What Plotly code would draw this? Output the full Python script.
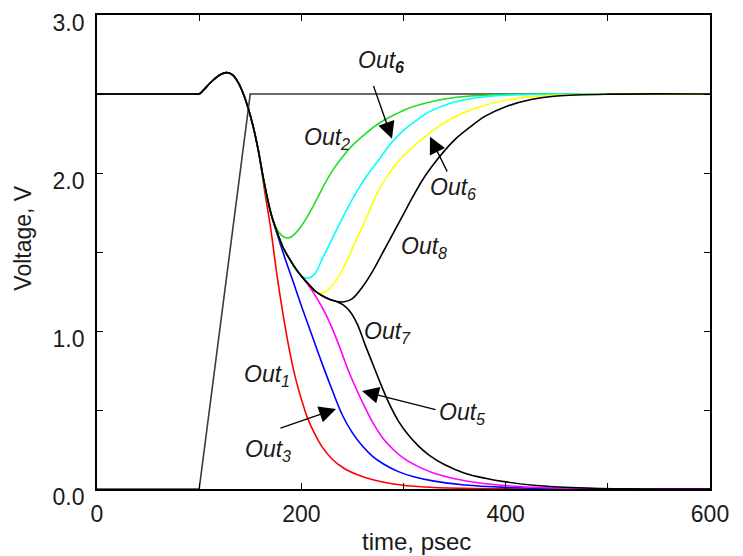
import plotly.graph_objects as go

# ---------------- data ----------------
input_t = [0, 100, 150, 600]
input_v = [0.0, 0.0, 2.5, 2.5]

# shared start of every output: flat, overshoot bump, fast fall
bump_t = [0, 97, 100, 105, 110, 115, 120, 127, 133, 138, 143, 148, 153, 158]
bump_v = [2.5, 2.5, 2.5, 2.53, 2.565, 2.595, 2.62, 2.635, 2.62, 2.575, 2.505, 2.41, 2.29, 2.14]

out1_t = [164, 170, 176, 182, 188, 194, 200, 206, 213, 220, 230, 242, 255, 270, 290, 320, 360, 420, 600]
out1_v = [1.89, 1.65, 1.36, 1.11, 0.89, 0.71, 0.57, 0.45, 0.35, 0.27, 0.19, 0.13, 0.09, 0.058, 0.032, 0.013, 0.004, 0.0, 0.0]

out2_t = [163, 168, 173, 178, 183, 188, 193, 199, 206, 214, 222, 230, 240, 250, 262, 275, 290, 305, 320, 340, 365, 400, 450, 600]
out2_v = [1.96, 1.80, 1.69, 1.625, 1.595, 1.59, 1.61, 1.655, 1.725, 1.82, 1.92, 2.01, 2.10, 2.175, 2.245, 2.31, 2.365, 2.41, 2.44, 2.468, 2.487, 2.497, 2.5, 2.5]

out3_t = [163, 170, 176, 183, 191, 200, 210, 220, 230, 240, 250, 260, 270, 280, 295, 310, 330, 360, 400, 450, 500, 600]
out3_v = [1.96, 1.75, 1.62, 1.48, 1.33, 1.16, 0.98, 0.80, 0.63, 0.47, 0.355, 0.27, 0.205, 0.16, 0.11, 0.078, 0.05, 0.025, 0.01, 0.002, 0.0, 0.0]

out4_t = [163, 170, 176, 182, 189, 195, 201, 207, 213, 220, 228, 236, 245, 255, 265, 276, 288, 300, 313, 326, 345, 370, 400, 450, 600]
out4_v = [1.96, 1.75, 1.63, 1.53, 1.45, 1.385, 1.345, 1.335, 1.36, 1.45, 1.555, 1.66, 1.775, 1.89, 1.99, 2.085, 2.19, 2.27, 2.335, 2.39, 2.44, 2.475, 2.492, 2.5, 2.5]

out5_t = [163, 170, 176, 182, 189, 195, 201, 208, 215, 222, 230, 238, 246, 254, 262, 270, 280, 290, 300, 315, 330, 350, 375, 400, 440, 500, 600]
out5_v = [1.96, 1.75, 1.63, 1.53, 1.45, 1.39, 1.34, 1.28, 1.21, 1.13, 1.02, 0.89, 0.75, 0.63, 0.52, 0.42, 0.32, 0.25, 0.195, 0.14, 0.10, 0.065, 0.038, 0.022, 0.008, 0.001, 0.0]

out6_t = [163, 170, 176, 182, 189, 195, 201, 208, 214, 219, 224, 230, 237, 245, 254, 264, 274, 285, 297, 310, 323, 338, 355, 375, 400, 430, 470, 520, 600]
out6_v = [1.96, 1.75, 1.63, 1.53, 1.45, 1.39, 1.34, 1.29, 1.25, 1.238, 1.25, 1.285, 1.35, 1.45, 1.58, 1.72, 1.87, 1.99, 2.09, 2.17, 2.24, 2.31, 2.37, 2.42, 2.46, 2.485, 2.497, 2.5, 2.5]

out7_t = [163, 170, 176, 182, 189, 195, 201, 208, 214, 220, 228, 235, 241, 248, 255, 262, 270, 278, 286, 295, 305, 315, 325, 340, 360, 380, 400, 430, 470, 520, 600]
out7_v = [1.96, 1.75, 1.63, 1.53, 1.45, 1.39, 1.34, 1.29, 1.25, 1.225, 1.20, 1.185, 1.165, 1.12, 1.04, 0.92, 0.79, 0.66, 0.54, 0.43, 0.34, 0.27, 0.215, 0.155, 0.10, 0.068, 0.045, 0.022, 0.008, 0.001, 0.0]

out8_t = [163, 170, 176, 182, 189, 195, 201, 208, 214, 220, 228, 235, 242, 250, 260, 270, 280, 290, 300, 310, 320, 330, 340, 350, 365, 380, 400, 425, 450, 500, 600]
out8_v = [1.96, 1.75, 1.63, 1.53, 1.45, 1.39, 1.34, 1.29, 1.25, 1.225, 1.20, 1.187, 1.185, 1.205, 1.28, 1.38, 1.50, 1.62, 1.74, 1.86, 1.97, 2.06, 2.14, 2.21, 2.29, 2.36, 2.42, 2.465, 2.487, 2.499, 2.5]

x_tickvals = [0, 100, 200, 300, 400, 500, 600]
x_ticktext = ["0", "", "200", "", "400", "", "600"]
y_tickvals = [0, 0.5, 1.0, 1.5, 2.0, 2.5, 3.0]
y_ticktext = ["0.0", "", "1.0", "", "2.0", "", "3.0"]

# labels: (text, t, v)
labels = [
    ("<i>Out<sub><b>6</b></sub></i>", 278, 2.705),
    ("<i>Out<sub>2</sub></i>", 225, 2.22),
    ("<i>Out<sub>6</sub></i>", 348, 1.90),
    ("<i>Out<sub>8</sub></i>", 320, 1.53),
    ("<i>Out<sub>7</sub></i>", 284, 0.99),
    ("<i>Out<sub>1</sub></i>", 166, 0.72),
    ("<i>Out<sub>3</sub></i>", 167, 0.245),
    ("<i>Out<sub>5</sub></i>", 357, 0.48),
]
# arrows: (tip_t, tip_v, tail_t, tail_v)
arrows = [
    (288.7, 2.217, 270.1, 2.561),
    (325.9, 2.23, 343.5, 2.00),
    (233.9, 0.507, 178.1, 0.382),
    (259.4, 0.62, 332.8, 0.50),
]

FONT = "Liberation Sans, Arial, sans-serif"

fig = go.Figure()

fig.add_trace(go.Scatter(x=input_t, y=input_v, mode="lines",
                         line=dict(color="#3a3a3a", width=1.6), hoverinfo="skip"))

series = [
    (out1_t, out1_v, "#ff0000"),
    (out3_t, out3_v, "#0000ff"),
    (out5_t, out5_v, "#ff00ff"),
    (out2_t, out2_v, "#22dd22"),
    (out4_t, out4_v, "#00ffff"),
    (out6_t, out6_v, "#ffff00"),
    (out7_t, out7_v, "#000000"),
    (out8_t, out8_v, "#000000"),
]
for t, v, c in series:
    fig.add_trace(go.Scatter(x=bump_t + t, y=bump_v + v, mode="lines",
                             line=dict(color=c, width=1.6, shape="spline", smoothing=1.0),
                             hoverinfo="skip"))

for txt, t, v in labels:
    fig.add_annotation(x=t, y=v, xref="x", yref="y", text=txt, showarrow=False,
                       xanchor="center", yanchor="middle",
                       font=dict(family=FONT, size=23, color="#1a1a1a"))

for tt, tv, at, av in arrows:
    fig.add_annotation(x=tt, y=tv, xref="x", yref="y", ax=at, ay=av, axref="x", ayref="y",
                       text="", showarrow=True, arrowhead=2, arrowsize=2.4, arrowwidth=1.4,
                       arrowcolor="#000000", standoff=0)

fig.add_annotation(x=(416 - 97) / 613, y=(489 - 542) / 479, xref="paper", yref="paper",
                   text="time, psec", showarrow=False, xanchor="center", yanchor="middle",
                   font=dict(family=FONT, size=24, color="#1a1a1a"))
fig.add_annotation(x=(23 - 97) / 613, y=(489 - 235) / 479, xref="paper", yref="paper",
                   text="Voltage, V", showarrow=False, textangle=-90,
                   xanchor="center", yanchor="middle",
                   font=dict(family=FONT, size=23, color="#1a1a1a"))

fig.update_xaxes(range=[0, 600], tickvals=x_tickvals, ticktext=x_ticktext,
                 ticks="inside", ticklen=6, tickwidth=1.3, tickcolor="black",
                 showline=True, linecolor="black", linewidth=1.8, mirror="ticks",
                 showgrid=False, zeroline=False, ticklabeloverflow="allow",
                 tickfont=dict(family=FONT, size=23, color="#1a1a1a"),
                 ticklabelstandoff=3)
fig.update_yaxes(range=[0, 3.0], tickvals=y_tickvals, ticktext=y_ticktext,
                 ticks="inside", ticklen=6, tickwidth=1.3, tickcolor="black",
                 showline=True, linecolor="black", linewidth=1.8, mirror="ticks",
                 showgrid=False, zeroline=False, ticklabeloverflow="allow",
                 tickfont=dict(family=FONT, size=23, color="#1a1a1a"),
                 ticklabelstandoff=6, ticklabelshift=8)

# page body has an 8 px margin, so the figure is 8 px smaller and margins shifted
fig.update_layout(width=735, height=548, showlegend=False,
                  margin=dict(l=89, r=33, t=2, b=67),
                  paper_bgcolor="white", plot_bgcolor="white")

fig.write_html("out.html")
